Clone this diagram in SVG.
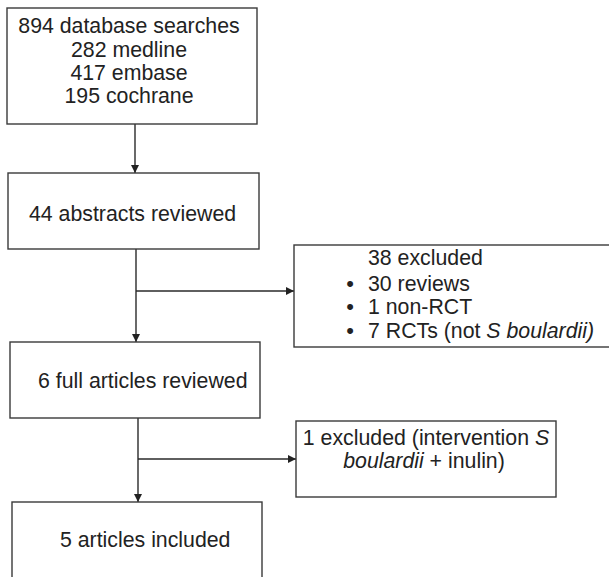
<svg xmlns="http://www.w3.org/2000/svg" width="609" height="577" viewBox="0 0 609 577">
<defs>
<style>
.box{fill:#fff;stroke:#3a3a3a;stroke-width:1.4}
.t{font-family:"Liberation Sans",Arial,sans-serif;font-size:21.3px;fill:#222}
.c{text-anchor:middle}
.b{font-family:"Liberation Sans",Arial,sans-serif;font-size:22px;fill:#222;text-anchor:middle}
.conn{stroke:#2a2a2a;stroke-width:1.4;fill:none}
</style>
<marker id="ah" viewBox="0 0 10 10" refX="10" refY="5" markerWidth="8" markerHeight="8" markerUnits="userSpaceOnUse" orient="auto">
<path d="M0,0 L10,5 L0,10 z" fill="#222"/>
</marker>
</defs>
<rect width="609" height="577" fill="#fff"/>
<g id="connectors">
<line class="conn" x1="135" y1="124" x2="135" y2="173" marker-end="url(#ah)"/>
<line class="conn" x1="136" y1="249" x2="136" y2="342" marker-end="url(#ah)"/>
<line class="conn" x1="136" y1="291" x2="294" y2="291" marker-end="url(#ah)"/>
<line class="conn" x1="138" y1="418" x2="138" y2="502" marker-end="url(#ah)"/>
<line class="conn" x1="138" y1="459" x2="296" y2="459" marker-end="url(#ah)"/>
</g>
<g id="n1">
<rect class="box" x="7" y="8" width="250" height="116"/>
<text class="t c" x="129" y="33">894 database searches</text>
<text class="t c" x="129" y="56.5">282 medline</text>
<text class="t c" x="129" y="80">417 embase</text>
<text class="t c" x="129" y="103">195 cochrane</text>
</g>
<g id="n2">
<rect class="box" x="8" y="173" width="251" height="76"/>
<text class="t" x="29" y="221">44 abstracts reviewed</text>
</g>
<g id="n3">
<rect class="box" x="294" y="245" width="320" height="102"/>
<text class="t" x="368" y="265">38 excluded</text>
<text class="b" x="350" y="291">•</text>
<text class="t" x="368" y="291">30 reviews</text>
<text class="b" x="350" y="314">•</text>
<text class="t" x="368" y="314">1 non-RCT</text>
<text class="b" x="350" y="338">•</text>
<text class="t" x="368" y="338">7 RCTs (not <tspan font-style="italic">S boulardii)</tspan></text>
</g>
<g id="n4">
<rect class="box" x="10" y="342" width="250" height="76"/>
<text class="t" x="38" y="388">6 full articles reviewed</text>
</g>
<g id="n5">
<rect class="box" x="296" y="421" width="260" height="76"/>
<text class="t c" x="426" y="445">1 excluded (intervention <tspan font-style="italic">S</tspan></text>
<text class="t c" x="424" y="468"><tspan font-style="italic">boulardii</tspan> + inulin)</text>
</g>
<g id="n6">
<rect class="box" x="12" y="502" width="250" height="90"/>
<text class="t" x="60" y="547">5 articles included</text>
</g>
</svg>
